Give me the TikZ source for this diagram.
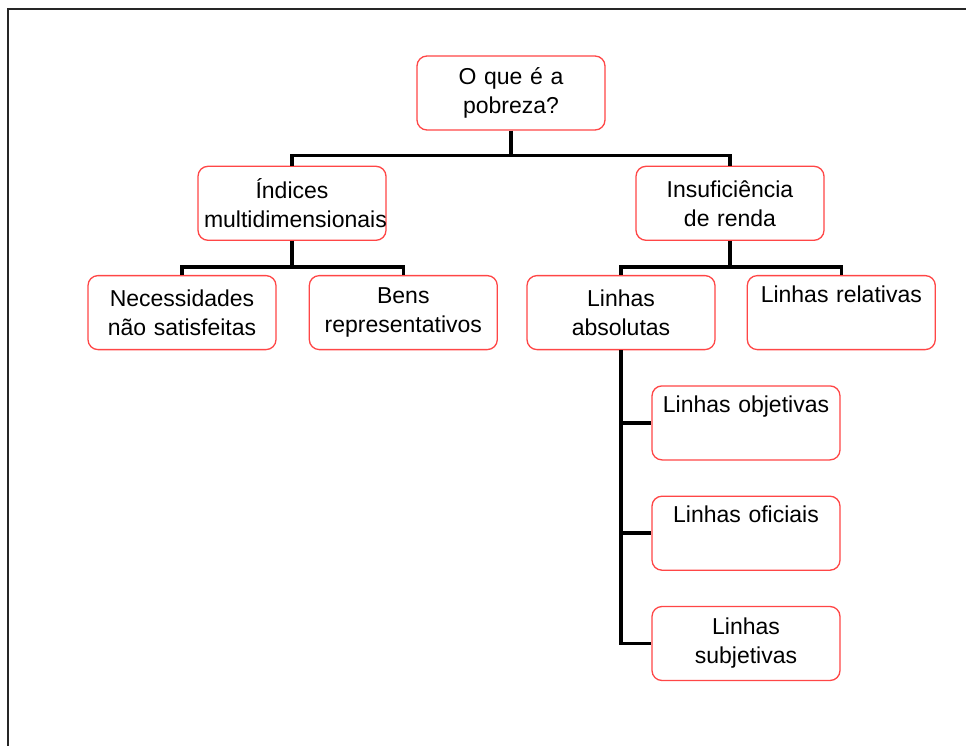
\documentclass[tikz,border=0pt]{standalone}
\usepackage{fontspec}
\setmainfont{Liberation Sans}
\usetikzlibrary{positioning}

\definecolor{boxred}{RGB}{255,70,70}

\tikzset{
  topic/.style={draw=boxred, line width=1.3pt, fill=white, rounded corners=10pt,
    minimum width=188pt, minimum height=74pt, text width=176pt, inner xsep=6pt,
    align=center, font=\fontsize{23}{29}\selectfont},
  bus/.style={line width=3.5pt},
  frame/.style={line width=1.5pt, black!85}
}

\begin{document}
\begin{tikzpicture}[x=1pt, y=-1pt]
  \useasboundingbox (0,0) rectangle (966,746);
  \draw[frame] (8,746) -- (8,9) -- (966,9);

  % top level
  \node[topic] (root) at (511,93) {O que é a\\pobreza?};
  \node[topic, below=35pt of root, xshift=-219pt] (ind) {Índices\\multidimensionais};
  \node[topic, below=35pt of root, xshift=219pt] (ins) {Insuficiência\\de renda};

  % second level
  \node[topic, below=34pt of ind, xshift=-110pt] (nec) {Necessidades\\não satisfeitas};
  \node[topic, right=32pt of nec] (bens) {Bens\\representativos};
  \node[topic, below=34pt of ins, xshift=-109pt] (abs) {Linhas\\absolutas};
  \node[topic, right=31pt of abs] (rel) {Linhas relativas\\\strut};

  % third level
  \node[topic, below=35pt of abs, xshift=125pt] (obj) {Linhas objetivas\\\strut};
  \node[topic, below=35pt of obj] (ofi) {Linhas oficiais\\\strut};
  \node[topic, below=35pt of ofi] (sub) {Linhas\\subjetivas};

  % junctions
  \coordinate[below=25pt of root] (j0);
  \coordinate[below=26pt of ind] (j1);
  \coordinate[below=26pt of ins] (j2);

  \draw[bus] (root) -- (j0);
  \draw[bus] (ind.north) |- (j0) -| (ins.north);
  \draw[bus] (ind) -- (j1);
  \draw[bus] (nec.north) |- (j1) -| (bens.north);
  \draw[bus] (ins) -- (j2);
  \draw[bus] (abs.north) |- (j2) -| (rel.north);
  \draw[bus] (abs.south) |- (sub.west);
  \draw[bus] (abs.south |- obj.west) -- (obj.west);
  \draw[bus] (abs.south |- ofi.west) -- (ofi.west);
\end{tikzpicture}
\end{document}
